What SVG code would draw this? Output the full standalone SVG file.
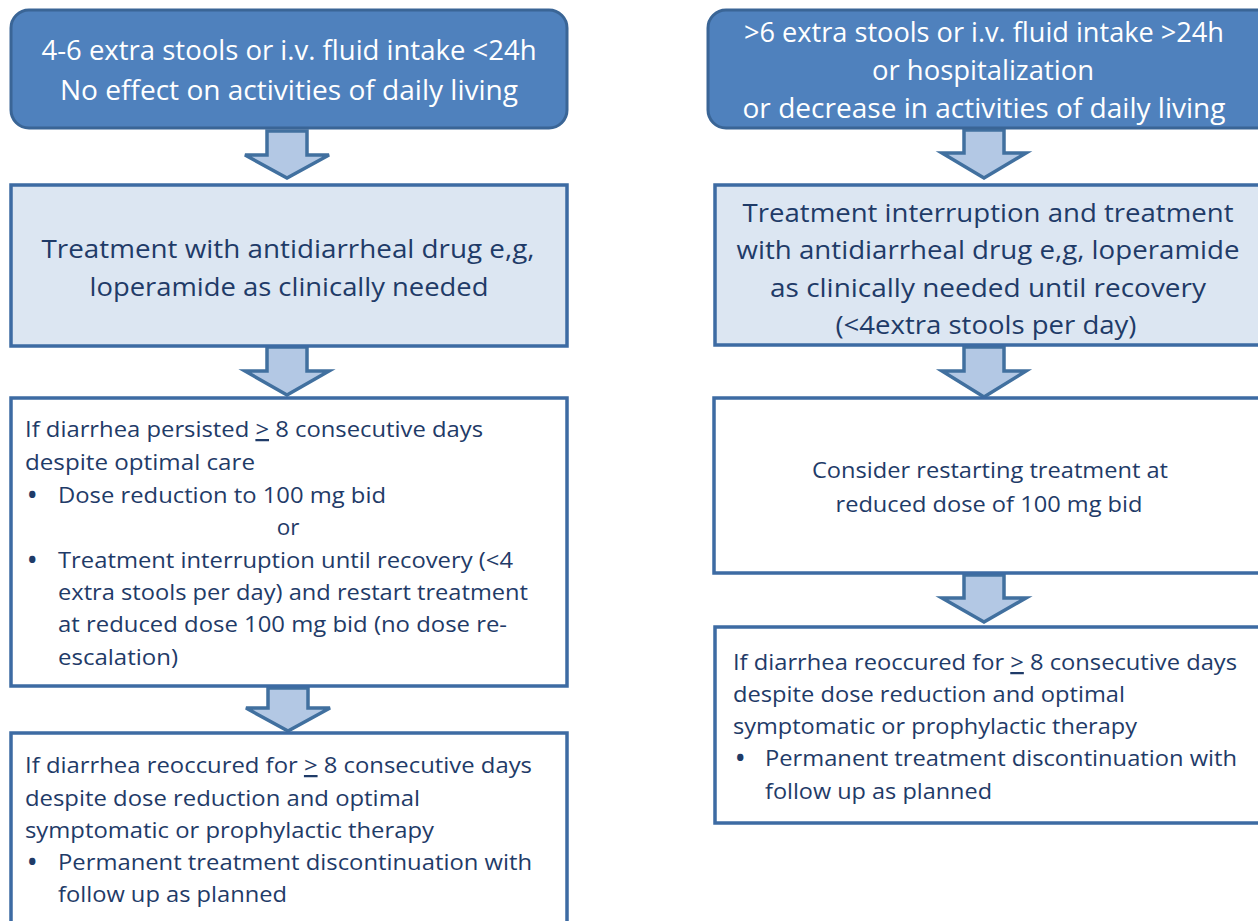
<svg xmlns="http://www.w3.org/2000/svg" width="1258" height="921" viewBox="0 0 1258 921">
<defs>
<style>
.hdr{fill:#4F81BD;stroke:#3A6596;stroke-width:3}
.lt{fill:#DCE6F2;stroke:#3D6BA3;stroke-width:3.5}
.wt{fill:#FFFFFF;stroke:#3D6BA3;stroke-width:3.5}
.arr{fill:#B3C8E4;stroke:#41709F;stroke-width:3.5;stroke-linejoin:miter}
text{font-family:"Open Sans","Noto Sans","Liberation Sans",sans-serif}
.w{fill:#FFFFFF;font-size:27px}
.d{fill:#1F3B68;font-size:25px}
.s{fill:#1F3B68;font-size:22.5px}
.b{fill:#1F3B68;font-size:22.5px;font-weight:bold}
.c{text-anchor:middle}
.u{text-decoration:underline}
</style>
</defs>
<rect width="1258" height="921" fill="#FFFFFF"/>
<g id="connectors">
<path class="arr" d="M267,131 H307 V155 H329 L287,178 L245,155 H267 Z"/>
<path class="arr" d="M267,347 H307 V371 H329 L287,395 L245,371 H267 Z"/>
<path class="arr" d="M268,688 H308 V708 H330 L288,731 L246,708 H268 Z"/>
<path class="arr" d="M964,130 H1004 V153 H1026 L984,178 L942,153 H964 Z"/>
<path class="arr" d="M964,347 H1004 V371 H1026 L984,397 L942,371 H964 Z"/>
<path class="arr" d="M964,575 H1004 V598 H1026 L984,622 L942,598 H964 Z"/>
</g>
<g id="n1">
<rect class="hdr" x="11" y="10" width="556" height="118" rx="18"/>
<text class="w c" x="289" y="60" textLength="495" lengthAdjust="spacingAndGlyphs">4-6 extra stools or i.v. fluid intake &lt;24h</text>
<text class="w c" x="289" y="100" textLength="458" lengthAdjust="spacingAndGlyphs">No effect on activities of daily living</text>
</g>
<g id="n2">
<rect class="lt" x="11" y="185" width="556" height="161"/>
<text class="d c" x="288" y="258" textLength="493" lengthAdjust="spacingAndGlyphs">Treatment with antidiarrheal drug e,g,</text>
<text class="d c" x="289" y="296" textLength="399" lengthAdjust="spacingAndGlyphs">loperamide as clinically needed</text>
</g>
<g id="n3">
<rect class="wt" x="11" y="398" width="556" height="288"/>
<text class="s" x="25" y="437" textLength="458" lengthAdjust="spacingAndGlyphs">If diarrhea persisted <tspan class="u">&gt;</tspan> 8 consecutive days</text>
<text class="s" x="25" y="470" textLength="230" lengthAdjust="spacingAndGlyphs">despite optimal care</text>
<text class="b" x="28" y="503">•</text>
<text class="s" x="58" y="503" textLength="328" lengthAdjust="spacingAndGlyphs">Dose reduction to 100 mg bid</text>
<text class="s c" x="288" y="535">or</text>
<text class="b" x="28" y="568">•</text>
<text class="s" x="58" y="568" textLength="455" lengthAdjust="spacingAndGlyphs">Treatment interruption until recovery (&lt;4</text>
<text class="s" x="58" y="600" textLength="470" lengthAdjust="spacingAndGlyphs">extra stools per day) and restart treatment</text>
<text class="s" x="58" y="632" textLength="449" lengthAdjust="spacingAndGlyphs">at reduced dose 100 mg bid (no dose re-</text>
<text class="s" x="58" y="665" textLength="120" lengthAdjust="spacingAndGlyphs">escalation)</text>
</g>
<g id="n4">
<rect class="wt" x="11" y="733" width="556" height="200"/>
<text class="s" x="25" y="773" textLength="507" lengthAdjust="spacingAndGlyphs">If diarrhea reoccured for <tspan class="u">&gt;</tspan> 8 consecutive days</text>
<text class="s" x="25" y="806" textLength="395" lengthAdjust="spacingAndGlyphs">despite dose reduction and optimal</text>
<text class="s" x="25" y="838" textLength="409" lengthAdjust="spacingAndGlyphs">symptomatic or prophylactic therapy</text>
<text class="b" x="28" y="870">•</text>
<text class="s" x="58" y="870" textLength="474" lengthAdjust="spacingAndGlyphs">Permanent treatment discontinuation with</text>
<text class="s" x="58" y="902" textLength="229" lengthAdjust="spacingAndGlyphs">follow up as planned</text>
</g>
<g id="n5">
<rect class="hdr" x="708" y="10" width="570" height="118" rx="18"/>
<text class="w c" x="984" y="42" textLength="480" lengthAdjust="spacingAndGlyphs">&gt;6 extra stools or i.v. fluid intake &gt;24h</text>
<text class="w c" x="983" y="80" textLength="222" lengthAdjust="spacingAndGlyphs">or hospitalization</text>
<text class="w c" x="984" y="118" textLength="483" lengthAdjust="spacingAndGlyphs">or decrease in activities of daily living</text>
</g>
<g id="n6">
<rect class="lt" x="715" y="185" width="560" height="160"/>
<text class="d c" x="988" y="222" textLength="491" lengthAdjust="spacingAndGlyphs">Treatment interruption and treatment</text>
<text class="d c" x="988" y="259" textLength="503" lengthAdjust="spacingAndGlyphs">with antidiarrheal drug e,g, loperamide</text>
<text class="d c" x="988" y="297" textLength="436" lengthAdjust="spacingAndGlyphs">as clinically needed until recovery</text>
<text class="d c" x="986" y="334" textLength="301" lengthAdjust="spacingAndGlyphs">(&lt;4extra stools per day)</text>
</g>
<g id="n7">
<rect class="wt" x="714" y="398" width="560" height="175"/>
<text class="s c" x="990" y="478" textLength="356" lengthAdjust="spacingAndGlyphs">Consider restarting treatment at</text>
<text class="s c" x="989" y="512" textLength="307" lengthAdjust="spacingAndGlyphs">reduced dose of 100 mg bid</text>
</g>
<g id="n8">
<rect class="wt" x="715" y="627" width="560" height="196"/>
<text class="s" x="733" y="670" textLength="504" lengthAdjust="spacingAndGlyphs">If diarrhea reoccured for <tspan class="u">&gt;</tspan> 8 consecutive days</text>
<text class="s" x="733" y="702" textLength="392" lengthAdjust="spacingAndGlyphs">despite dose reduction and optimal</text>
<text class="s" x="733" y="734" textLength="404" lengthAdjust="spacingAndGlyphs">symptomatic or prophylactic therapy</text>
<text class="b" x="736" y="766">•</text>
<text class="s" x="765" y="766" textLength="472" lengthAdjust="spacingAndGlyphs">Permanent treatment discontinuation with</text>
<text class="s" x="765" y="799" textLength="227" lengthAdjust="spacingAndGlyphs">follow up as planned</text>
</g>
</svg>
